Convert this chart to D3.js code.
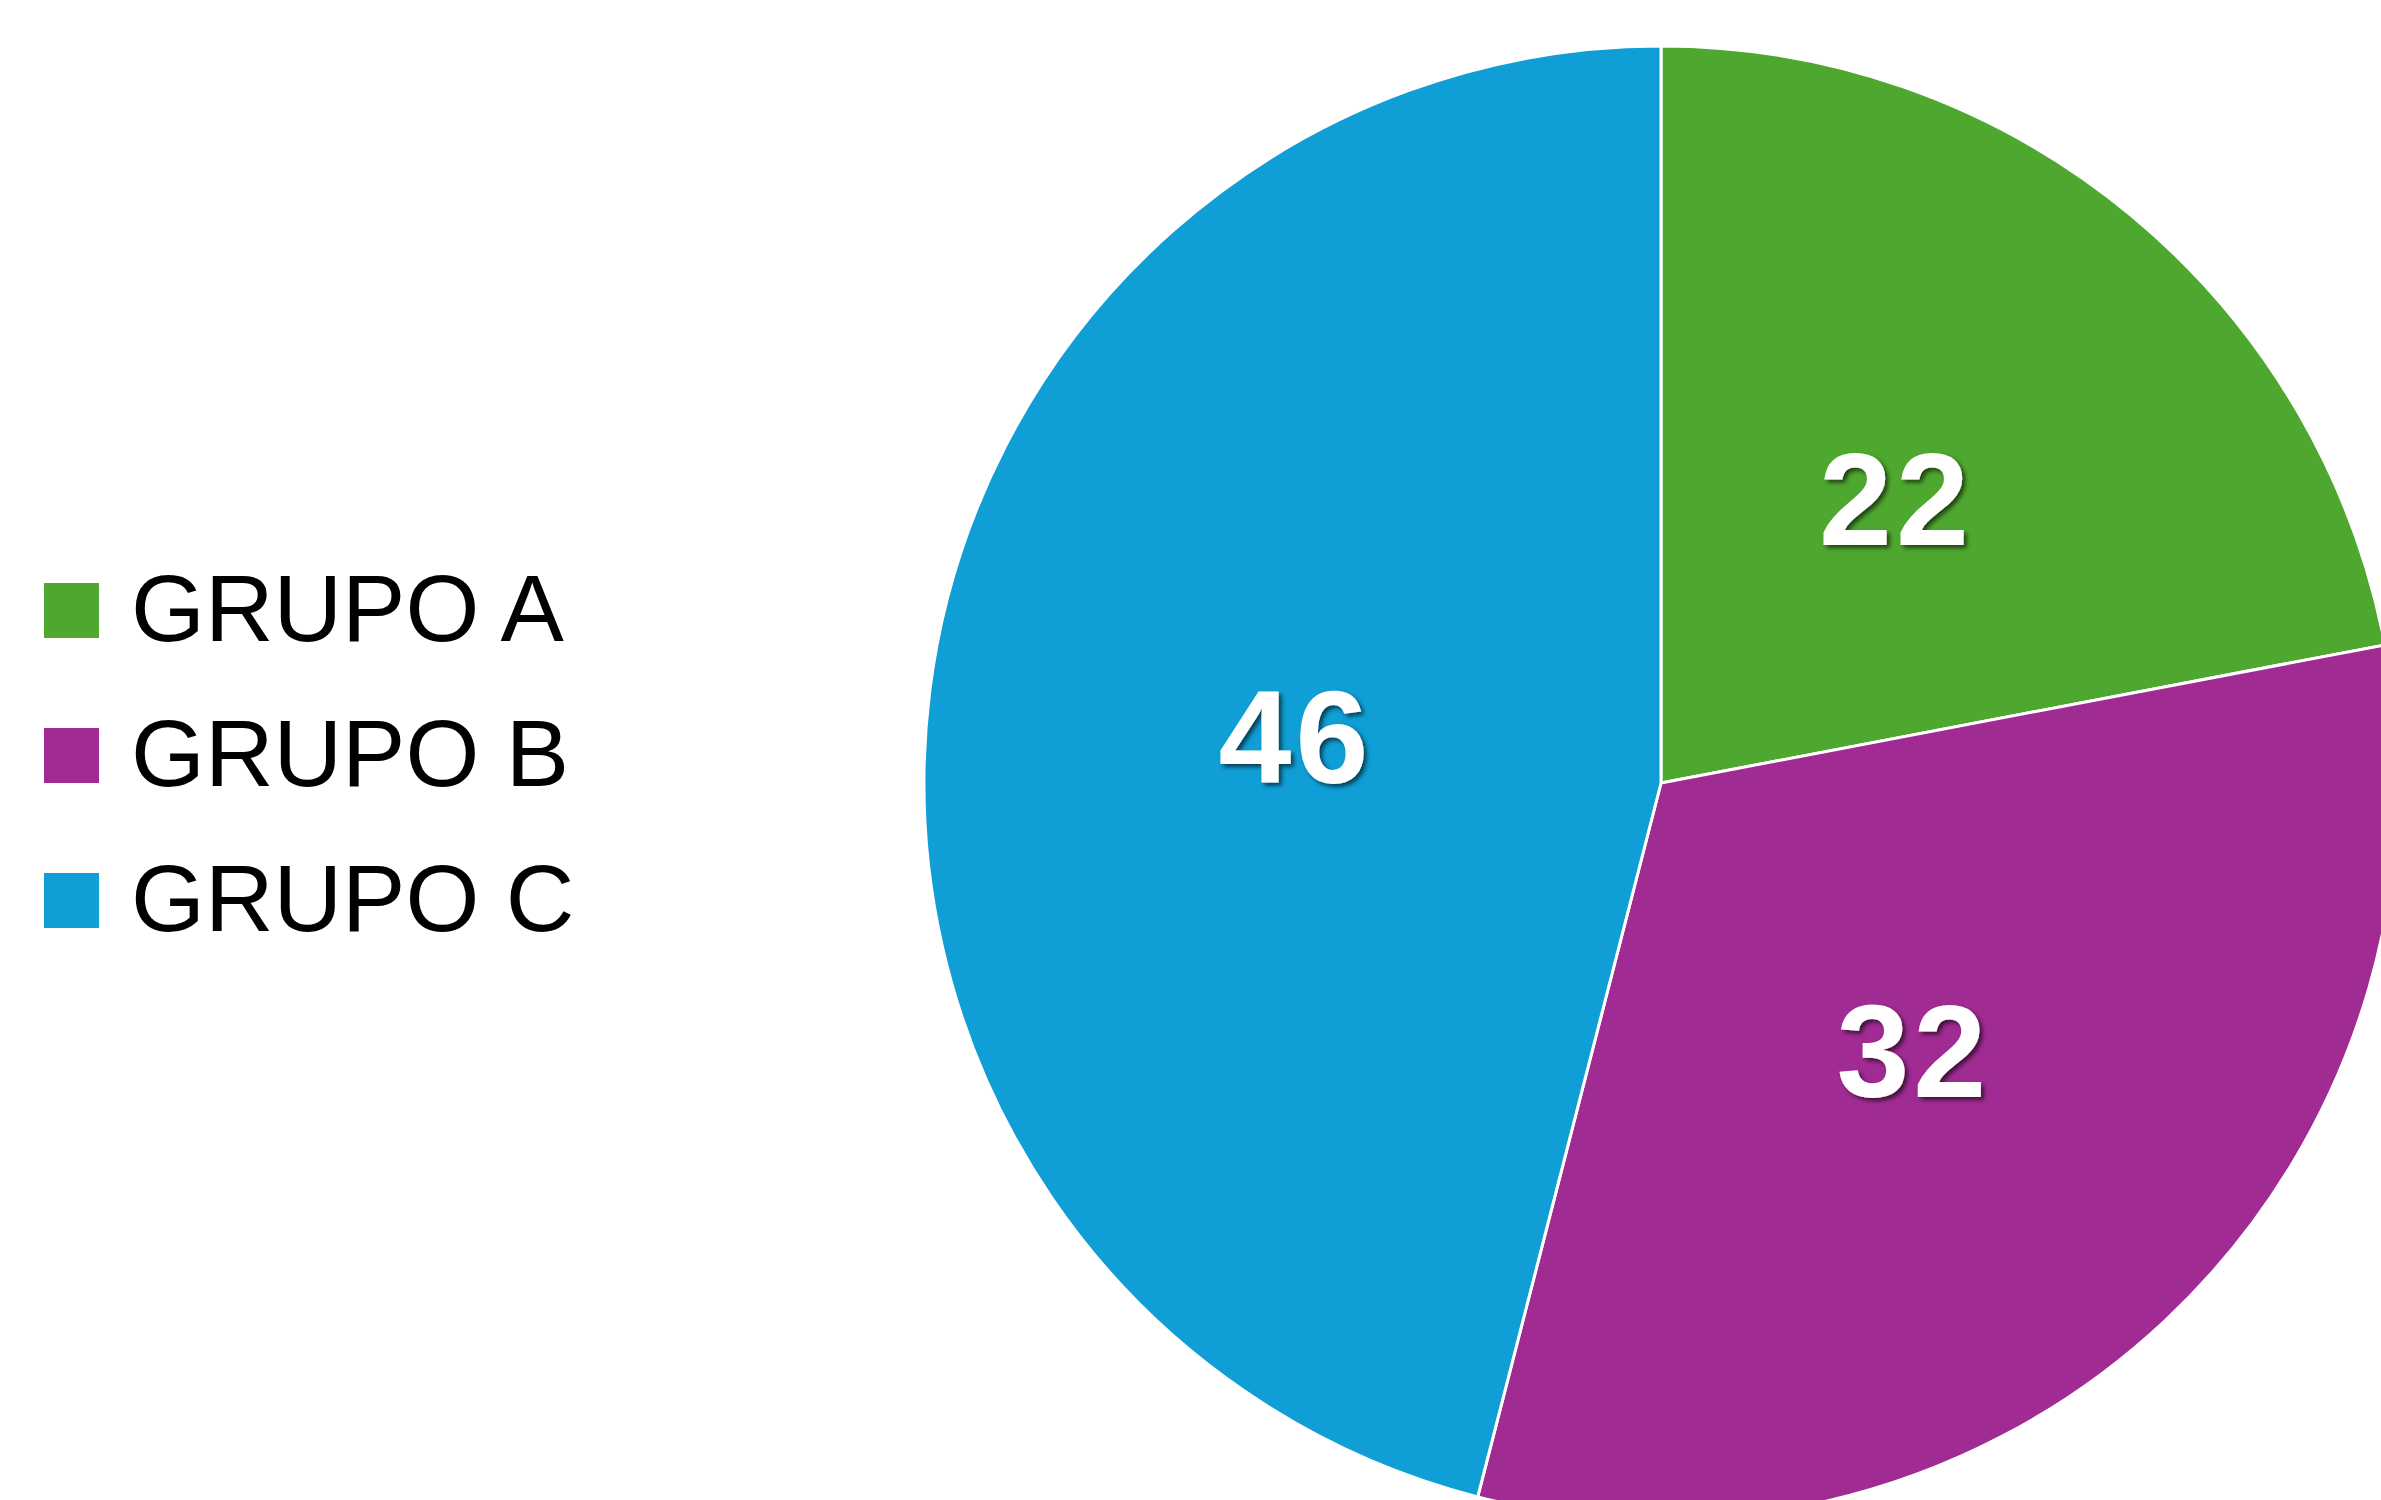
<!DOCTYPE html>
<html>
<head>
<meta charset="utf-8">
<script src="https://cdn.jsdelivr.net/npm/d3@7"></script>
<style>
  html, body { margin: 0; padding: 0; background: #fff; overflow: hidden; }
  svg { display: block; }
</style>
</head>
<body>
<div id="chart"></div>
<script>
const categories = ['GRUPO A', 'GRUPO B', 'GRUPO C']
const values = [22, 32, 46]
const colors = ['#4EA72E', '#A02B93', '#0F9ED5']

const width = 2381
const height = 1500
const cx = 1661, cy = 783
const radius = 737

const svg = d3.select('#chart').append('svg')
    .attr('width', width)
    .attr('height', height)

// soft shadow behind the slice labels
const filter = svg.append('defs').append('filter')
    .attr('id', 'shadow')
    .attr('x', '-20%').attr('y', '-20%')
    .attr('width', '140%').attr('height', '140%')
filter.append('feDropShadow')
    .attr('dx', 3).attr('dy', 3)
    .attr('stdDeviation', 2)
    .attr('flood-color', '#000')
    .attr('flood-opacity', 0.6)

const data = categories.map((c, i) => ({ name: c, value: values[i], color: colors[i] }))

const pie = d3.pie().sort(null).value(d => d.value)
const arc = d3.arc().innerRadius(0).outerRadius(radius)
const labelArc = d3.arc().innerRadius(radius * 0.5).outerRadius(radius * 0.5)

const plot = svg.append('g')
    .attr('transform', `translate(${cx}, ${cy})`)

const arcs = pie(data)

plot.selectAll('path')
    .data(arcs)
    .enter().append('path')
    .attr('d', arc)
    .attr('fill', d => d.data.color)
    .attr('stroke', '#fff')
    .attr('stroke-width', 3)
    .attr('stroke-linejoin', 'round')

plot.selectAll('text.value')
    .data(arcs)
    .enter().append('text')
    .attr('class', 'value')
    .attr('transform', d => `translate(${labelArc.centroid(d)})`)
    .attr('text-anchor', 'middle')
    .attr('dy', '0.35em')
    .attr('font-family', 'Liberation Sans, Arial, sans-serif')
    .attr('font-weight', 'bold')
    .attr('font-size', 131)
    .attr('letter-spacing', 4)
    .attr('fill', '#fff')
    .attr('filter', 'url(#shadow)')
    .text(d => d.data.value)

// legend
const legend = svg.append('g')
    .attr('transform', 'translate(44, 583)')

const rows = legend.selectAll('g')
    .data(data)
    .enter().append('g')
    .attr('transform', (d, i) => `translate(0, ${i * 145})`)

rows.append('rect')
    .attr('width', 55)
    .attr('height', 55)
    .attr('fill', d => d.color)

rows.append('text')
    .attr('x', 87)
    .attr('y', 58)
    .attr('font-family', 'Liberation Sans, Arial, sans-serif')
    .attr('font-size', 95)
    .attr('fill', '#000')
    .text(d => d.name)
</script>
</body>
</html>
